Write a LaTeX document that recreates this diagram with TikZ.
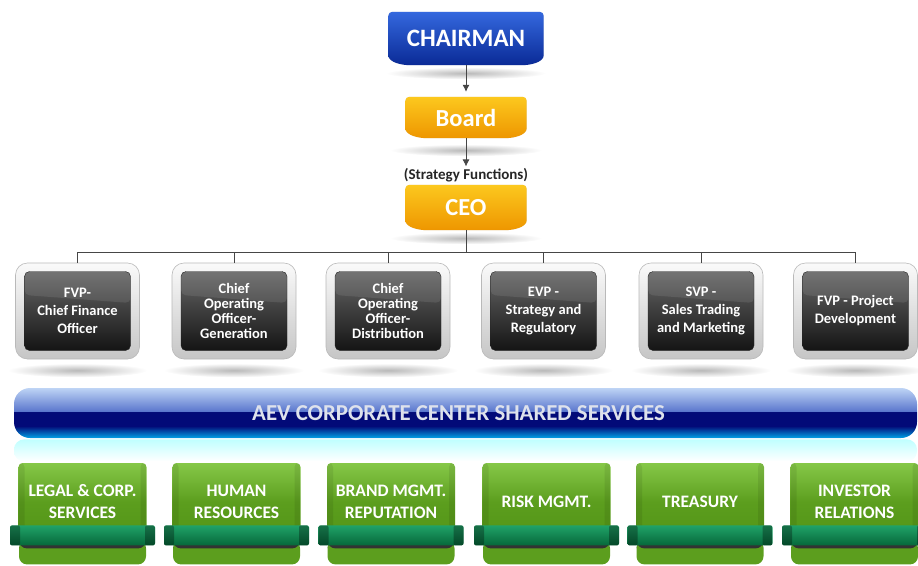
\documentclass[tikz,border=0pt]{standalone}
\usepackage{fontspec}
\setmainfont{Carlito}
\usepackage{xcolor}
\usepackage{tikz}
\usetikzlibrary{
  calc,
  positioning,
  arrows.meta,
  backgrounds
}
\tikzset{>={Latex[length=7pt,width=7pt]}}
\definecolor{chairtop}{RGB}{52,104,222}
\definecolor{chairbot}{RGB}{10,42,150}
\definecolor{goldtop}{RGB}{252,200,30}
\definecolor{goldbot}{RGB}{238,150,0}
\definecolor{linegray}{RGB}{70,70,70}
\definecolor{leaftop}{RGB}{134,200,72}
\definecolor{leafmid}{RGB}{92,158,30}
\definecolor{leafbot}{RGB}{82,148,22}
\definecolor{ribtop}{RGB}{32,162,104}
\definecolor{ribbot}{RGB}{6,104,58}
\definecolor{barlight}{RGB}{190,212,245}
\definecolor{barmid}{RGB}{92,120,206}
\definecolor{barnavy}{RGB}{2,10,120}
\definecolor{barcyan}{RGB}{0,162,230}
\definecolor{bartext}{RGB}{222,226,236}
\pgfdeclareverticalshading{aevbar}{100bp}{color(0bp)=(barcyan); color(25bp)=(barcyan); color(37bp)=(barnavy); color(51bp)=(barnavy); color(52bp)=(barmid); color(75bp)=(barlight); color(100bp)=(barlight)}
\newcommand{\tabshape}[3]{%
  \fill[gray!28, yshift=-2.5pt, rounded corners=4pt] ($(#1.south west)+(0,-14)$) -- (#1.north west) -- (#1.north east) -- ($(#1.south east)+(0,-14)$) to[out=-90,in=0] ($(#1.south east)+(-26,0)$) -- ($(#1.south west)+(26,0)$) to[out=180,in=-90] ($(#1.south west)+(0,-14)$) -- cycle;
  \shade[top color=#2, bottom color=#3, rounded corners=4pt] ($(#1.south west)+(0,-14)$) -- (#1.north west) -- (#1.north east) -- ($(#1.south east)+(0,-14)$) to[out=-90,in=0] ($(#1.south east)+(-26,0)$) -- ($(#1.south west)+(26,0)$) to[out=180,in=-90] ($(#1.south west)+(0,-14)$) -- cycle;
}
\tikzset{
  tabtext/.style={text=white, font=\bfseries\fontsize{24.5}{28}\selectfont, minimum width=121pt, inner sep=0pt},
  link/.style={draw=linegray, line width=.8pt},
  frame/.style={draw=gray!55, line width=.6pt, rounded corners=12pt, top color=gray!4, bottom color=gray!45, minimum width=124pt, minimum height=96pt, inner sep=0pt},
  darkbox/.style={draw=black!85, rounded corners=5pt, top color=black!60, bottom color=black!92, minimum width=106pt, minimum height=79pt, inner sep=1pt, text=white, align=center, font=\bfseries\fontsize{14.5}{18}\selectfont,
    path picture={\fill[white,opacity=.09] (path picture bounding box.north west) -- (path picture bounding box.north east) -- ($(path picture bounding box.east)+(0pt,8pt)$) -- ($(path picture bounding box.west)+(0pt,16pt)$) -- cycle;}},
  tight/.style={font=\bfseries\fontsize{14.5}{15}\selectfont},
  bar/.style={shading=aevbar, rounded corners=16pt, minimum width=903pt, minimum height=50pt, inner sep=0pt, text=bartext, font=\bfseries\fontsize{22.8}{26}\selectfont},
  glow/.style={top color=cyan!25!white, bottom color=white, rounded corners=10pt, minimum width=903pt, minimum height=22pt, inner sep=0pt},
  leaf/.style={rounded corners=4pt, top color=leaftop, bottom color=leafbot, middle color=leafmid, minimum width=128pt, minimum height=78pt, inner sep=0pt, text=white, align=center, font=\bfseries\fontsize{17.5}{22}\selectfont,
    path picture={\fill[black,opacity=.08] (path picture bounding box.north west) rectangle ($(path picture bounding box.south west)+(6pt,0pt)$);
                  \fill[black,opacity=.08] (path picture bounding box.north east) rectangle ($(path picture bounding box.south east)+(-6pt,0pt)$);}},
  leafbase/.style={rounded corners=8pt, fill=leafmid, minimum width=127pt, minimum height=24pt, inner sep=0pt,
    path picture={\fill[black!80] (path picture bounding box.north west) rectangle ($(path picture bounding box.north east)+(0pt,-8pt)$);}},
  ribbon/.style={rounded corners=2pt, top color=ribtop, bottom color=ribbot, minimum width=145pt, minimum height=20pt, inner sep=0pt,
    path picture={\fill[black,opacity=.3] (path picture bounding box.north west) rectangle ($(path picture bounding box.south west)+(10pt,0pt)$);
                  \fill[black,opacity=.3] (path picture bounding box.north east) rectangle ($(path picture bounding box.south east)+(-10pt,0pt)$);}}
}

\begin{document}
\begin{tikzpicture}[x=1pt,y=-1pt]
  \useasboundingbox (0,0) rectangle (918,565);

  % top of the chart
  \node[tabtext, minimum width=155pt, minimum height=53pt, font=\bfseries\fontsize{25}{28}\selectfont] (chair) at (466,38.5) {CHAIRMAN};
  \node[tabtext, minimum height=41pt] (board) at (466,117.5) {Board};
  \node[font=\bfseries\fontsize{15}{17}\selectfont, text=black!85, inner sep=2pt] (strat) at (466,175.5) {(Strategy Functions)};
  \node[tabtext, minimum height=45pt] (ceo) at (466,207.5) {CEO};

  % officers
  \node[frame] (f1) at (77.5,311) {};
  \node[darkbox] (cfo) at (f1) {FVP-\\Chief Finance\\Officer};
  \node[frame] (f2) at (234,311) {};
  \node[darkbox, tight] (coog) at (f2) {Chief\\Operating\\Officer-\\Generation};
  \node[frame] (f3) at (388,311) {};
  \node[darkbox, tight] (cood) at (f3) {Chief\\Operating\\Officer-\\Distribution};
  \node[frame] (f4) at (543.5,311) {};
  \node[darkbox] (evp) at (f4) {EVP -\\Strategy and\\Regulatory};
  \node[frame] (f5) at (701,311) {};
  \node[darkbox] (svp) at (f5) {SVP -\\Sales Trading\\and Marketing};
  \node[frame] (f6) at (855.5,311) {};
  \node[darkbox] (fvp) at (f6) {FVP - Project\\Development};

  % shared services
  \node[bar] (aev) at (465.5,413) {AEV CORPORATE CENTER SHARED SERVICES\kern14pt};
  \node[glow, below=1pt of aev] (aevglow) {};

  \node[leaf] (legal) at (82.5,502) {LEGAL \& CORP.\\SERVICES};
  \node[leafbase, below=-1pt of legal] (legalbase) {};
  \node[ribbon, below=-16pt of legal] (legalrib) {};
  \node[leaf] (hr) at (236.5,502) {HUMAN\\RESOURCES};
  \node[leafbase, below=-1pt of hr] (hrbase) {};
  \node[ribbon, below=-16pt of hr] (hrrib) {};
  \node[leaf] (brand) at (391,502) {BRAND MGMT.\\REPUTATION};
  \node[leafbase, below=-1pt of brand] (brandbase) {};
  \node[ribbon, below=-16pt of brand] (brandrib) {};
  \node[leaf] (risk) at (546.5,502) {RISK MGMT.};
  \node[leafbase, below=-1pt of risk] (riskbase) {};
  \node[ribbon, below=-16pt of risk] (riskrib) {};
  \node[leaf] (treas) at (700,502) {TREASURY};
  \node[leafbase, below=-1pt of treas] (treasbase) {};
  \node[ribbon, below=-16pt of treas] (treasrib) {};
  \node[leaf] (inv) at (854.5,502) {INVESTOR\\RELATIONS};
  \node[leafbase, below=-1pt of inv] (invbase) {};
  \node[ribbon, below=-16pt of inv] (invrib) {};

  \begin{pgfonlayer}{background}
    \shade[inner color=gray!55, outer color=white] ($(chair.south)+(0,8)$) ellipse (80pt and 6pt);
    \shade[inner color=gray!55, outer color=white] ($(board.south)+(0,12)$) ellipse (76pt and 6pt);
    \shade[inner color=gray!55, outer color=white] ($(ceo.south)+(0,8)$) ellipse (76pt and 6pt);
    \shade[inner color=gray!55, outer color=white] ($(f1.south)+(0,11)$) ellipse (70pt and 7pt);
    \shade[inner color=gray!55, outer color=white] ($(f2.south)+(0,11)$) ellipse (70pt and 7pt);
    \shade[inner color=gray!55, outer color=white] ($(f3.south)+(0,11)$) ellipse (70pt and 7pt);
    \shade[inner color=gray!55, outer color=white] ($(f4.south)+(0,11)$) ellipse (70pt and 7pt);
    \shade[inner color=gray!55, outer color=white] ($(f5.south)+(0,11)$) ellipse (70pt and 7pt);
    \shade[inner color=gray!55, outer color=white] ($(f6.south)+(0,11)$) ellipse (70pt and 7pt);
    \tabshape{chair}{chairtop}{chairbot}
    \tabshape{board}{goldtop}{goldbot}
    \tabshape{ceo}{goldtop}{goldbot}
  \end{pgfonlayer}

  % connectors
  \draw[link,->,shorten >=5pt] (chair.south) -- (board.north);
  \draw[link,->] (board.south) -- (strat.north);
  \coordinate (hub) at (466,252);
  \draw[link] (ceo.south) -- (hub);
  \draw[link] (hub -| f1.north) -- (hub -| f6.north);
  \draw[link] (hub -| f1.north) -- (f1.north);
  \draw[link] (hub -| f2.north) -- (f2.north);
  \draw[link] (hub -| f3.north) -- (f3.north);
  \draw[link] (hub -| f4.north) -- (f4.north);
  \draw[link] (hub -| f5.north) -- (f5.north);
  \draw[link] (hub -| f6.north) -- (f6.north);
\end{tikzpicture}
\end{document}
